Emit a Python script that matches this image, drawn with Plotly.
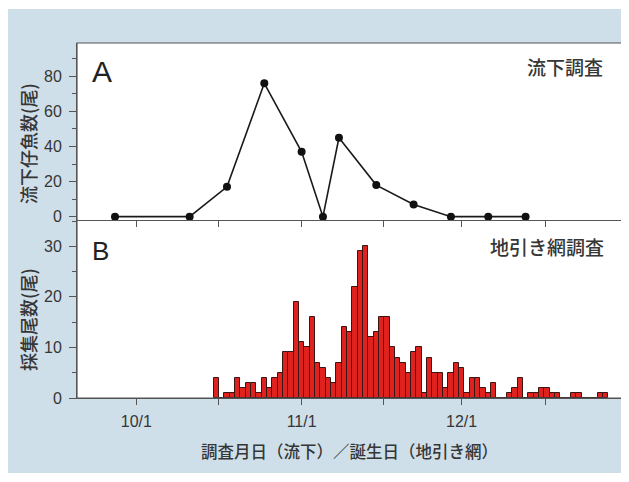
import plotly.graph_objects as go
import pandas as pd

YEAR = 2005

# Panel A: 流下調査 (drift survey) – survey dates and larval counts
drift_dates = ["09-27", "10-11", "10-18", "10-25", "11-01", "11-05",
               "11-08", "11-15", "11-22", "11-29", "12-06", "12-13"]
drift_counts = [0, 0, 17, 76, 37, 0, 45, 18, 7, 0, 0, 0]

# Panel B: 地引き網調査 (beach seine) – daily counts by birth date, starting 10/16
seine_start = "10-16"
seine_counts = [4, 0, 1, 1, 4, 2, 3, 3, 1, 4, 2, 4, 5, 9, 9, 19,
                11, 10, 16, 7, 6, 4, 3, 7, 14, 13, 22, 29, 30, 12, 13, 16,
                16, 10, 8, 7, 5, 9, 10, 1, 8, 5, 5, 2, 5, 7, 6, 1,
                4, 4, 2, 1, 3, 0, 0, 1, 2, 4, 0, 1, 1, 2, 2, 1,
                1, 0, 0, 1, 1, 0, 0, 0, 1, 1]

tick_dates = ["10-01", "10-16 08:00", "11-01", "11-16 09:00", "12-01", "12-16 16:00"]
tick_labels = ["10/1", "", "11/1", "", "12/1", ""]

drift_x = [f"{YEAR}-{d}" for d in drift_dates]
seine_x = pd.date_range(f"{YEAR}-{seine_start}", periods=len(seine_counts), freq="D")
tick_x = [f"{YEAR}-{d}" for d in tick_dates]
x_range = [f"{YEAR}-09-19 21:00", f"{YEAR}-12-31 02:00"]

BG = "#cfdfe9"
AX = "#555555"
TXT = "#363636"
NUM_FONT = "Liberation Sans, Arial, sans-serif"
JP_FONT = "Noto Sans CJK JP, sans-serif"

fig = go.Figure()

fig.add_trace(go.Bar(
    x=seine_x, y=seine_counts, xaxis="x", yaxis="y",
    width=86400000,
    marker=dict(color="#e0221e", line=dict(color="#3b1414", width=1)),
    showlegend=False,
))
fig.add_trace(go.Scatter(
    x=drift_x, y=drift_counts, xaxis="x2", yaxis="y2",
    mode="lines+markers",
    line=dict(color="#1a1a1a", width=1.6),
    marker=dict(color="#111111", size=8),
    showlegend=False, cliponaxis=False,
))

split = 0.5014
common_x = dict(
    type="date", range=x_range, showline=True, linecolor=AX, linewidth=1,
    ticks="outside", ticklen=6, tickcolor=AX, tickmode="array",
    tickvals=tick_x, ticktext=tick_labels, showgrid=False, zeroline=False,
    tickfont=dict(family=NUM_FONT, size=16, color=TXT),
)
fig.update_layout(
    width=621, height=474,
    margin=dict(l=69, r=7, t=35, b=84),
    paper_bgcolor="white", plot_bgcolor="white",
    bargap=0,
    xaxis=dict(**common_x, anchor="y", ticklabelstandoff=3),
    xaxis2=dict(**common_x, anchor="y2", matches="x", showticklabels=False),
    yaxis=dict(domain=[0, split], range=[0, 35.2], showline=True, linecolor=AX,
               ticks="outside", ticklen=7, tickcolor=AX, tickvals=[0, 10, 20, 30],
               minor=dict(tickvals=[5, 15, 25, 35], ticks="outside", ticklen=4, tickcolor=AX),
               showgrid=False, zeroline=False, ticklabelstandoff=4,
               tickfont=dict(family=NUM_FONT, size=16, color=TXT)),
    yaxis2=dict(domain=[split, 1], range=[-1.9, 99], showline=True, linecolor=AX,
                ticks="outside", ticklen=7, tickcolor=AX, tickvals=[0, 20, 40, 60, 80],
                minor=dict(tickvals=[10, 30, 50, 70, 90], ticks="outside", ticklen=4, tickcolor=AX),
                showgrid=False, zeroline=False, ticklabelstandoff=4,
                tickfont=dict(family=NUM_FONT, size=16, color=TXT)),
    shapes=[
        dict(type="rect", xref="paper", yref="paper", x0=-0.13, x1=1.02,
             y0=-0.2113, y1=1.0958, fillcolor=BG, line=dict(width=0), layer="below"),
        dict(type="rect", xref="paper", yref="paper", x0=0, x1=1, y0=0, y1=1,
             fillcolor="white", line=dict(width=0), layer="below"),
        dict(type="rect", xref="paper", yref="paper", x0=0, x1=1, y0=0, y1=1,
             fillcolor="rgba(0,0,0,0)", line=dict(color=AX, width=1.2), layer="above"),
    ],
)

ann = [
    dict(text="A", x=0.0459, y=0.9211, font=dict(family=NUM_FONT, size=30, color="#222")),
    dict(text="B", x=0.0440, y=0.4141, font=dict(family=NUM_FONT, size=26, color="#222")),
    dict(text="流下調査", x=0.9688, y=0.9338, xanchor="right",
         font=dict(family=JP_FONT, size=19, color=TXT, weight=500)),
    dict(text="地引き網調査", x=0.9706, y=0.4268, xanchor="right",
         font=dict(family=JP_FONT, size=19, color=TXT, weight=500)),
    dict(text="流下仔魚数(尾)", x=-0.0899, y=0.7155, textangle=-90,
         font=dict(family=JP_FONT, size=18, color=TXT, weight=500)),
    dict(text="採集尾数(尾)", x=-0.0899, y=0.2197, textangle=-90,
         font=dict(family=JP_FONT, size=18, color=TXT, weight=500)),
    dict(text="調査月日（流下）／誕生日（地引き網）", x=0.4991, y=-0.1493,
         font=dict(family=JP_FONT, size=16.5, color=TXT, weight=500)),
]
for a in ann:
    a.setdefault("xanchor", "center")
    a.update(xref="paper", yref="paper", yanchor="middle", showarrow=False)
fig.update_layout(annotations=ann)

fig.write_html("out.html")
